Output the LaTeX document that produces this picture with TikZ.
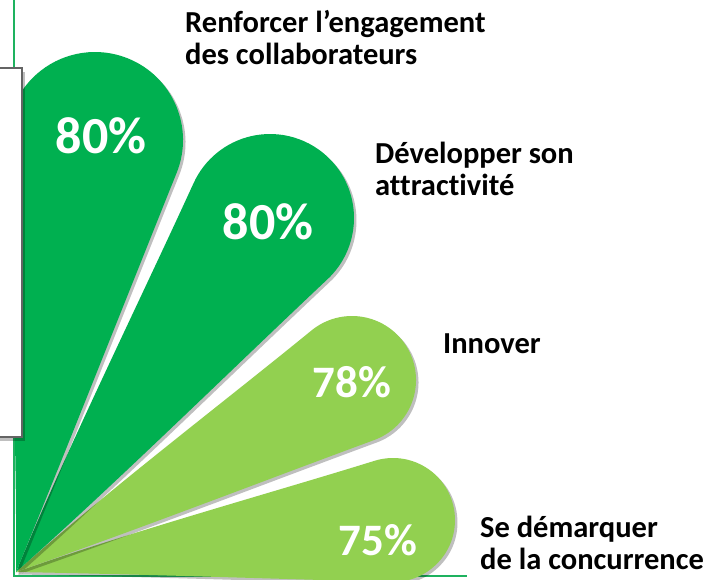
\documentclass[tikz,border=0pt]{standalone}
\usepackage{fontspec}
\setmainfont{Carlito}[Ligatures=NoCommon]
\usetikzlibrary{calc}
\definecolor{dkgreen}{RGB}{0,176,80}
\definecolor{ltgreen}{RGB}{146,208,80}
\definecolor{framegreen}{RGB}{30,178,95}
\definecolor{boxgray}{RGB}{100,100,100}
\tikzset{
 petalshadow/.style={preaction={fill=black,opacity=0.25,transform canvas={shift={(2.5pt,-2.5pt)}}}},
 darkpetal/.style={fill=dkgreen,petalshadow},
 lightpetal/.style={fill=ltgreen,petalshadow},
 pct/.style={text=white,font=\fontsize{52}{52}\selectfont\bfseries,inner sep=0pt},
 pctsmall/.style={pct,font=\fontsize{45}{45}\selectfont\bfseries},
 lbl/.style={text=black,font=\fontsize{30.5}{32}\selectfont\bfseries,align=left,inner sep=0pt,anchor=base west},
 framestyle/.style={draw=framegreen,line width=2pt},
 panel/.style={fill=white,draw=boxgray,line width=2pt,
   preaction={fill=black,opacity=0.25,transform canvas={shift={(3pt,-4pt)}}}}
}
% #1 centre, #2 radius, #3 start angle, #4 end angle, #5 low edge angle, #6 up edge angle, #7 style, #8 name
\newcommand\petal[8]{%
 \coordinate (#8a) at ($(#1)+(#3:#2pt)$);
 \coordinate (#8b) at ($(#1)+(#4:#2pt)$);
 \path[#7] (O) .. controls ($(O)+(#5:130pt)$) and ($(#8a)!0.3!(O)$) .. (#8a)
   arc[start angle=#3, end angle=#4, radius=#2pt]
   .. controls ($(#8b)!0.3!(O)$) and ($(O)+(#6:130pt)$) .. (O) -- cycle;}
\begin{document}
\begin{tikzpicture}[x=1pt,y=1pt]
\useasboundingbox (0,0) rectangle (714,579);
\clip (0,0) rectangle (714,579);
\fill[white] (0,0) rectangle (714,579);
\coordinate (O) at (16,7);
\coordinate (TL) at (14,579);
\coordinate (BL) at (14,3);
\coordinate (BR) at (467,3);
\draw[framestyle] (TL) -- (BL) -- (BR);
\coordinate (C1) at (95,439);
\coordinate (C2) at (270,361);
\coordinate (C3) at (352,199);
\coordinate (C4) at (393,59);
\petal{C4}{62}{-90.91}{107.13}{-1}{19.2}{lightpetal}{p4}
\petal{C3}{64}{-69.78}{129.26}{19.2}{41.5}{lightpetal}{p3}
\petal{C2}{84}{-46.79}{155.45}{41.5}{67.6}{darkpetal}{p2}
\petal{C1}{88}{-21.92}{181.2}{67.6}{89.5}{darkpetal}{p1}
\node[pct] (v1) at (101,443) {80\%};
\node[pct] (v2) at (268,357) {80\%};
\node[pctsmall] (v3) at (352,197) {78\%};
\node[pctsmall] (v4) at (378,39) {75\%};
\coordinate (PA) at (-5,142);
\coordinate (PB) at (22,511);
\draw[panel] (PA) rectangle (PB);
\node[lbl] (t1) at (185,514) {Renforcer l’engagement\\des collaborateurs};
\node[lbl] (t2) at (375,383) {Développer son\\attractivité};
\node[lbl] (t3) at (443,226) {Innover};
\node[lbl] (t4) at (480,10) {Se démarquer\\de la concurrence};
\end{tikzpicture}
\end{document}
